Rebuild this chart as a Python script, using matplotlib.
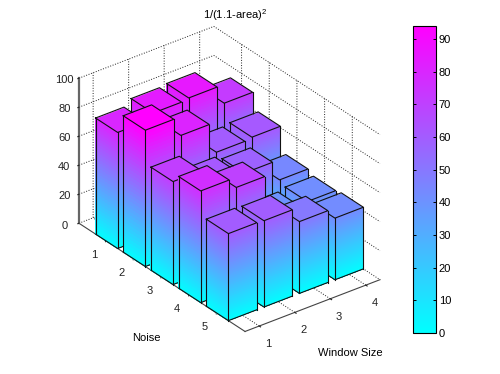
import matplotlib
matplotlib.use("Agg")
import matplotlib.pyplot as plt
import numpy as np
from matplotlib.cm import ScalarMappable
from matplotlib.colors import Normalize

plt.rcParams['font.family'] = ['Liberation Sans', 'DejaVu Sans']
plt.rcParams['mathtext.fontset'] = 'custom'
plt.rcParams['mathtext.rm'] = 'Liberation Sans'
plt.rcParams['mathtext.default'] = 'regular'

# Data
noise = [1, 2, 3, 4, 5]
window = [1, 2, 3, 4]
noise_1 = [80, 84, 85, 72]
noise_2 = [94, 81, 60, 61]
noise_3 = [71, 61, 58, 44]
noise_4 = [77, 70, 40, 41.5]
noise_5 = [60, 59.5, 49.5, 42.5]
heights = [noise_1, noise_2, noise_3, noise_4, noise_5]
z_ticks = [0, 20, 40, 60, 80, 100]
cbar_ticks = [0, 10, 20, 30, 40, 50, 60, 70, 80, 90]

W, H = 500, 374
half = 0.4
norm = Normalize(0, max(max(r) for r in heights))
cmap = plt.get_cmap('cool')

fig = plt.figure(figsize=(W / 100, H / 100), dpi=100)
ax = fig.add_axes([37.4 / W, 3 / H, 374 / W, 374 / H], projection='3d', computed_zorder=False)
ax.set_proj_type('ortho')
ax.view_init(elev=30, azim=-127.5)
ax.set_box_aspect((170, 272.7, 167.4), zoom=0.941)


def draw_bar(xc, yc, h, order):
    x0, x1 = xc - half, xc + half
    y0, y1 = yc - half, yc + half
    levels = np.linspace(0, h, 40)
    colors = cmap(norm((levels[:-1] + levels[1:]) / 2))[:, None, :]
    zz = np.column_stack([levels, levels])
    # left side face
    ax.plot_surface(np.full_like(zz, x0), np.tile([y0, y1], (40, 1)), zz, facecolors=colors,
                    rstride=1, cstride=1, shade=False, linewidth=0, antialiased=False, zorder=order)
    # right side face
    ax.plot_surface(np.tile([x0, x1], (40, 1)), np.full_like(zz, y1), zz, facecolors=colors,
                    rstride=1, cstride=1, shade=False, linewidth=0, antialiased=False, zorder=order)
    # top
    ax.plot_surface(np.array([[x0, x1], [x0, x1]]), np.array([[y0, y0], [y1, y1]]), np.full((2, 2), h),
                    facecolors=cmap(norm(np.full((1, 1), h))), rstride=1, cstride=1, shade=False,
                    linewidth=0, antialiased=False, zorder=order)
    edge = dict(color='#111111', lw=0.8, zorder=order + 0.5)
    ax.plot([x0, x1, x1, x0, x0], [y0, y0, y1, y1, y0], [h] * 5, **edge)
    ax.plot([x0, x0, x1], [y0, y1, y1], [0, 0, 0], **edge)
    for px, py in [(x0, y0), (x0, y1), (x1, y1)]:
        ax.plot([px, px], [py, py], [0, h], **edge)


# back to front, so the near bars paint over the far ones
order = 1
for i, n in enumerate(noise):
    for j in range(len(window) - 1, -1, -1):
        draw_bar(window[j], n, heights[i][j], order)
        order += 1

ax.set_xlim(0.6, 4.4, view_margin=0)
ax.set_ylim(6, 0, view_margin=0)
ax.set_zlim(0, 100, view_margin=0)
ax.set_xticks(window)
ax.set_yticks(noise)
ax.set_zticks(z_ticks)

for axis in (ax.xaxis, ax.yaxis, ax.zaxis):
    axis.set_pane_color((1, 1, 1, 0))
    axis.pane.set_edgecolor((1, 1, 1, 0))
    axis._axinfo['grid'].update(color='#222222', linewidth=0.7, linestyle=':')
    axis._axinfo['tick'].update(inward_factor=0.1, outward_factor=0.0)
    axis.line.set_color('#444444')
    axis.line.set_linewidth(0.8)
ax.zaxis.line.set_color('#666666')
ax.zaxis.line.set_linewidth(1.6)
ax.tick_params(axis='x', labelsize=8, colors='#222222', pad=2)
ax.tick_params(axis='y', labelsize=8, colors='#222222', pad=2)
ax.tick_params(axis='z', labelsize=8, colors='#222222', pad=-1.2)

# nudge the floor labels up and left of where mplot3d puts them
for lab in ax.get_xticklabels() + ax.get_yticklabels():
    lab.set_ha('right')
    lab.set_va('center')

fig.text(235 / W, 1 - 15 / H, '1/(1.1-area)$^2$', ha='center', va='center', fontsize=8)
fig.text(146 / W, 1 - 338 / H, 'Noise', ha='center', va='center', fontsize=8)
fig.text(350 / W, 1 - 353 / H, 'Window Size', ha='center', va='center', fontsize=8)

cax = fig.add_axes([413 / W, 1 - 333 / H, 23 / W, 307 / H])
cb = fig.colorbar(ScalarMappable(norm=norm, cmap=cmap), cax=cax, ticks=cbar_ticks)
cb.ax.tick_params(labelsize=8, direction='in', left=True, right=True, length=2, width=0.7, pad=2)
cb.outline.set_linewidth(0.8)

fig.savefig('out.png', dpi=100)
plt.close()
